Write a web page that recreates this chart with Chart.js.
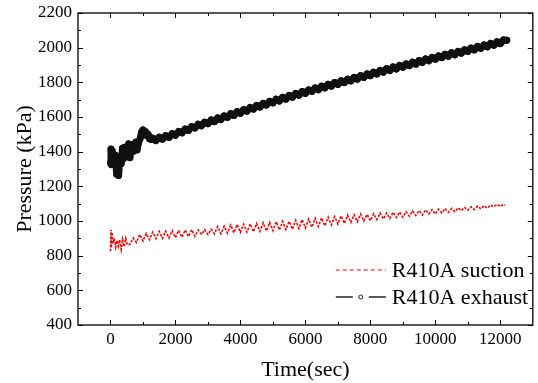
<!DOCTYPE html>
<html>
<head>
<meta charset="utf-8">
<title>R410A pressure vs time</title>
<script src="https://cdn.jsdelivr.net/npm/chart.js@4.4.0/dist/chart.umd.min.js"></script>
<style>
  html, body { margin: 0; padding: 0; background: #fff; }
  #wrap { width: 538px; height: 383px; }
</style>
</head>
<body>
<div id="wrap"><canvas id="pressureChart" width="538" height="383"></canvas></div>
<script>
// Axis ticks
const xTicks = [0, 2000, 4000, 6000, 8000, 10000, 12000];
const yTicks = [400, 600, 800, 1000, 1200, 1400, 1600, 1800, 2000, 2200];
const seriesNames = ['R410A suction', 'R410A exhaust'];

// [time (sec), pressure (kPa)]
const suction = [
    [0, 826], [15, 950], [30, 845], [50, 935], [80, 870], [120, 900], [160, 850], [200, 888],
    [240, 855], [280, 892], [330, 836], [370, 895], [420, 852], [470, 900], [520, 862],
    [600, 866], [700, 902], [800, 876], [900, 922], [1000, 884], [1100, 928], [1200, 892],
    [1300, 936], [1400, 898], [1500, 940], [1600, 900], [1700, 942], [1800, 902], [1900, 944],
    [2000, 904], [2100, 946], [2200, 906], [2300, 948], [2400, 910], [2500, 950], [2600, 912],
    [2700, 948], [2800, 922], [2900, 950], [3000, 922], [3100, 952], [3200, 926], [3300, 968],
    [3400, 926], [3500, 970], [3600, 930], [3700, 976], [3800, 932], [3900, 980], [4000, 934],
    [4100, 982], [4200, 936], [4300, 984], [4400, 938], [4500, 986], [4600, 940], [4700, 990],
    [4800, 942], [4900, 992], [5000, 944], [5100, 996], [5200, 948], [5300, 998], [5400, 950],
    [5500, 998], [5600, 952], [5700, 1004], [5800, 956], [5900, 1008], [6000, 960], [6100, 1012],
    [6200, 964], [6300, 1016], [6400, 968], [6500, 1018], [6600, 972], [6700, 1022], [6800, 978],
    [6900, 1026], [7000, 982], [7100, 1030], [7200, 986], [7300, 1034], [7400, 992], [7500, 1036],
    [7600, 996], [7700, 1040], [7800, 1000], [7900, 1038], [8000, 1002], [8100, 1042], [8200, 1008],
    [8300, 1046], [8400, 1012], [8500, 1046], [8600, 1014], [8700, 1050], [8800, 1020], [8900, 1052],
    [9000, 1022], [9100, 1054], [9200, 1028], [9300, 1058], [9400, 1032], [9500, 1060], [9600, 1034],
    [9700, 1064], [9800, 1040], [9900, 1066], [10000, 1040], [10100, 1068], [10200, 1046],
    [10300, 1072], [10400, 1050], [10500, 1072], [10600, 1054], [10700, 1076], [10800, 1060],
    [10900, 1078], [11000, 1062], [11100, 1082], [11200, 1066], [11300, 1086], [11400, 1070],
    [11500, 1088], [11600, 1074], [11700, 1092], [11800, 1082], [11900, 1096], [12000, 1084],
    [12100, 1096], [12150, 1090]
];

const exhaust = [
    [0, 1335], [15, 1415], [30, 1325], [50, 1405], [80, 1345], [150, 1380], [190, 1270],
    [220, 1365], [250, 1262], [280, 1350], [330, 1330], [370, 1420], [400, 1360], [430, 1425],
    [470, 1375], [520, 1400], [560, 1445], [600, 1365], [640, 1440], [690, 1400], [740, 1420],
    [780, 1455], [820, 1410], [860, 1450], [920, 1480], [960, 1515], [1000, 1525], [1040, 1505],
    [1080, 1515], [1120, 1492], [1160, 1500], [1200, 1475], [1250, 1470],
    [1300, 1478], [1400, 1464], [1500, 1484], [1600, 1472], [1700, 1493], [1800, 1482],
    [1900, 1504], [2000, 1494], [2100, 1517], [2200, 1508], [2300, 1531], [2400, 1522],
    [2500, 1545], [2600, 1536], [2700, 1559], [2800, 1549], [2900, 1571], [3000, 1561],
    [3100, 1583], [3200, 1573], [3300, 1595], [3400, 1585], [3500, 1607], [3600, 1597],
    [3700, 1619], [3800, 1609], [3900, 1631], [4000, 1621], [4100, 1643], [4200, 1633],
    [4300, 1655], [4400, 1645], [4500, 1667], [4600, 1657], [4700, 1679], [4800, 1669],
    [4900, 1691], [5000, 1681], [5100, 1703], [5200, 1692], [5300, 1714], [5400, 1703],
    [5500, 1725], [5600, 1714], [5700, 1736], [5800, 1725], [5900, 1747], [6000, 1736],
    [6100, 1757], [6200, 1747], [6300, 1768], [6400, 1757], [6500, 1778], [6600, 1768],
    [6700, 1789], [6800, 1778], [6900, 1799], [7000, 1788], [7100, 1809], [7200, 1798],
    [7300, 1819], [7400, 1808], [7500, 1829], [7600, 1818], [7700, 1839], [7800, 1828],
    [7900, 1849], [8000, 1838], [8100, 1859], [8200, 1848], [8300, 1869], [8400, 1858],
    [8500, 1879], [8600, 1868], [8700, 1889], [8800, 1877], [8900, 1898], [9000, 1887],
    [9100, 1907], [9200, 1896], [9300, 1917], [9400, 1905], [9500, 1926], [9600, 1915],
    [9700, 1935], [9800, 1924], [9900, 1944], [10000, 1933], [10100, 1953], [10200, 1942],
    [10300, 1962], [10400, 1950], [10500, 1971], [10600, 1959], [10700, 1979], [10800, 1968],
    [10900, 1988], [11000, 1978], [11100, 1998], [11200, 1987], [11300, 2007], [11400, 1996],
    [11500, 2016], [11600, 2005], [11700, 2025], [11800, 2014], [11900, 2034], [12000, 2023],
    [12100, 2045], [12200, 2043]
];

const FONT = "'Liberation Serif', 'Times New Roman', serif";
Chart.defaults.font.family = FONT;
Chart.defaults.color = '#000';

// Frame with inward ticks on all four sides, plus the in-plot legend
const framePlugin = {
    id: 'frameAndLegend',
    afterDraw(chart) {
        const ctx = chart.ctx;
        const { left, top, right, bottom } = chart.chartArea;
        const xs = chart.scales.x;
        const ys = chart.scales.y;

        ctx.save();
        ctx.strokeStyle = '#000';
        ctx.lineWidth = 1.3;
        ctx.strokeRect(left, top, right - left, bottom - top);

        ctx.lineWidth = 1;
        ctx.beginPath();
        const xMinor = xTicks.map(v => v + 1000).filter(v => v < xs.max);
        xTicks.forEach(v => {
            const px = Math.round(xs.getPixelForValue(v)) + 0.5;
            ctx.moveTo(px, bottom); ctx.lineTo(px, bottom - 5);
            ctx.moveTo(px, top); ctx.lineTo(px, top + 5);
        });
        xMinor.forEach(v => {
            const px = Math.round(xs.getPixelForValue(v)) + 0.5;
            ctx.moveTo(px, bottom); ctx.lineTo(px, bottom - 3);
            ctx.moveTo(px, top); ctx.lineTo(px, top + 3);
        });
        const yMinor = yTicks.map(v => v + 100).filter(v => v < ys.max);
        yTicks.forEach(v => {
            const py = Math.round(ys.getPixelForValue(v)) + 0.5;
            ctx.moveTo(left, py); ctx.lineTo(left + 5, py);
            ctx.moveTo(right, py); ctx.lineTo(right - 5, py);
        });
        yMinor.forEach(v => {
            const py = Math.round(ys.getPixelForValue(v)) + 0.5;
            ctx.moveTo(left, py); ctx.lineTo(left + 3, py);
            ctx.moveTo(right, py); ctx.lineTo(right - 3, py);
        });
        ctx.stroke();

        // legend
        const lx0 = right - 197, lx1 = right - 147, tx = right - 141;
        const rows = [bottom - 55, bottom - 28];
        ctx.font = `22px ${FONT}`;
        ctx.fillStyle = '#000';
        ctx.textBaseline = 'middle';
        ctx.textAlign = 'left';

        // suction: red dashed
        ctx.strokeStyle = '#ff0000';
        ctx.lineWidth = 1.2;
        ctx.setLineDash([4, 3]);
        ctx.beginPath();
        ctx.moveTo(lx0, rows[0]); ctx.lineTo(lx1, rows[0]);
        ctx.stroke();
        ctx.setLineDash([]);
        ctx.fillText(chart.data.datasets[0].label, tx, rows[0] + 1);

        // exhaust: line with open circle
        const cx = (lx0 + lx1) / 2;
        ctx.strokeStyle = '#222';
        ctx.lineWidth = 1.3;
        ctx.beginPath();
        ctx.moveTo(lx0, rows[1]); ctx.lineTo(cx - 8, rows[1]);
        ctx.moveTo(cx + 8, rows[1]); ctx.lineTo(lx1, rows[1]);
        ctx.stroke();
        ctx.lineWidth = 1;
        ctx.beginPath();
        ctx.arc(cx, rows[1], 2, 0, Math.PI * 2);
        ctx.stroke();
        ctx.fillText(chart.data.datasets[1].label, tx, rows[1] + 1);
        ctx.restore();
    }
};

function toPoints(series) {
    return series.map(([t, p]) => ({ x: t, y: p }));
}

function noEdgePadding(s) {
    s.paddingTop = 0;
    s.paddingBottom = 0;
    s.paddingLeft = 0;
    s.paddingRight = 0;
}

const ctx = document.getElementById('pressureChart');
new Chart(ctx, {
    type: 'scatter',
    data: {
        datasets: [
            {
                label: seriesNames[0],
                data: toPoints(suction),
                showLine: true,
                borderColor: '#ff0000',
                borderWidth: 1.6,
                borderDash: [2.5, 1.5],
                pointRadius: 0,
                tension: 0
            },
            {
                label: seriesNames[1],
                data: toPoints(exhaust),
                showLine: true,
                borderColor: '#111',
                borderWidth: 7,
                borderJoinStyle: 'round',
                borderCapStyle: 'round',
                pointRadius: 2.8,
                pointBorderWidth: 1.2,
                pointBorderColor: '#111',
                pointBackgroundColor: 'rgba(0,0,0,0)',
                tension: 0
            }
        ]
    },
    options: {
        responsive: false,
        animation: false,
        layout: { padding: { top: 13, right: 3, left: 0, bottom: 0 } },
        plugins: {
            legend: { display: false },
            tooltip: { enabled: false }
        },
        scales: {
            x: {
                type: 'linear',
                min: -1000,
                max: 13000,
                afterBuildTicks: s => { s.ticks = xTicks.map(v => ({ value: v })); },
                afterFit: s => { s.height = 58; noEdgePadding(s); },
                grid: { display: false, drawTicks: false },
                border: { display: false },
                ticks: {
                    font: { family: FONT, size: 17 },
                    color: '#000',
                    padding: 4,
                    maxRotation: 0,
                    autoSkip: false,
                    callback: v => String(v)
                },
                title: {
                    display: true,
                    text: 'Time(sec)',
                    font: { family: FONT, size: 22 },
                    color: '#000',
                    padding: { top: 0, bottom: 0 }
                }
            },
            y: {
                type: 'linear',
                min: 400,
                max: 2200,
                afterBuildTicks: s => { s.ticks = yTicks.map(v => ({ value: v })); },
                afterFit: s => { s.width = 78; noEdgePadding(s); },
                grid: { display: false, drawTicks: false },
                border: { display: false },
                ticks: {
                    font: { family: FONT, size: 17 },
                    color: '#000',
                    padding: 6,
                    callback: v => String(v)
                },
                title: {
                    display: true,
                    text: 'Pressure (kPa)',
                    font: { family: FONT, size: 22 },
                    color: '#000',
                    padding: { top: 12, bottom: 0 }
                }
            }
        }
    },
    plugins: [framePlugin]
});
</script>
</body>
</html>
